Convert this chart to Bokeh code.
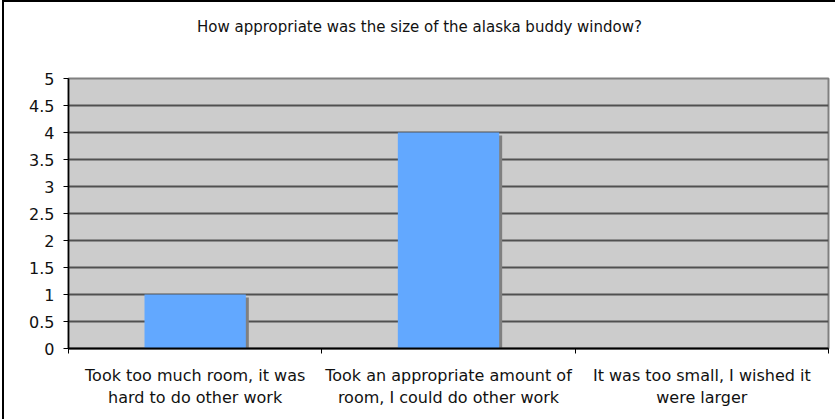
import numpy as np
from bokeh.plotting import figure
from bokeh.layouts import column
from bokeh.models import FixedTicker, NumeralTickFormatter, Range1d, ColumnDataSource, Div
from bokeh.embed import file_html
from bokeh.resources import INLINE

# ---- data ----
categories = [
    "Took too much room, it was\nhard to do other work",
    "Took an appropriate amount of\nroom, I could do other work",
    "It was too small, I wished it\nwere larger",
]
counts = [1, 4, 0]
y_ticks = [0, 0.5, 1, 1.5, 2, 2.5, 3, 3.5, 4, 4.5, 5]
title_text = "How appropriate was the size of the alaska buddy window?"

# ---- style ----
FONT = "DejaVu Sans"
W = 831
TH = 50                       # title block height
H = 417 - TH
ML, MR, MT, MB = 64, 7, 26, 71
BAR_W = 0.4
frame_w = W - ML - MR
frame_h = H - MT - MB
n = len(categories)
ymax = y_ticks[-1]
dx = 3 * n / frame_w          # 3px shadow offset in data units
dy = 3 * ymax / frame_h

xc = np.arange(n) + 0.5
vals = np.array(counts, dtype=float)
src = ColumnDataSource(dict(x=xc, top=vals,
                            sx=xc + dx, stop=np.maximum(vals - dy, 0)))

title = Div(text=title_text, width=W, height=TH, margin=(0, 0, 0, 0),
            styles={"font-family": FONT, "font-size": "15px",
                    "color": "#111111", "text-align": "center",
                    "line-height": f"{TH}px", "background": "white"})

p = figure(width=W, height=H, output_backend="svg", toolbar_location=None,
           x_range=Range1d(0, n), y_range=Range1d(0, ymax),
           min_border_left=ML, min_border_right=MR,
           min_border_top=MT, min_border_bottom=MB,
           background_fill_color="#CCCCCC", border_fill_color="white")

p.outline_line_color = "#808080"
p.outline_line_width = 2

# shadow + bars
p.vbar(x="sx", top="stop", bottom=0, width=BAR_W, source=src,
       fill_color="#808080", line_color=None)
p.vbar(x="x", top="top", bottom=0, width=BAR_W, source=src,
       fill_color="#62A8FF", line_color=None)

# grid
p.xgrid.visible = False
p.ygrid.ticker = FixedTicker(ticks=y_ticks)
p.ygrid.grid_line_color = "#505050"
p.ygrid.grid_line_width = 2
p.ygrid.level = "underlay"

# y axis
ya = p.yaxis[0]
ya.ticker = FixedTicker(ticks=y_ticks)
ya.formatter = NumeralTickFormatter(format="0.[0]")
ya.axis_line_color = "black"
ya.axis_line_width = 1.5
ya.major_tick_out = 5
ya.major_tick_in = 0
ya.minor_tick_out = 0
ya.minor_tick_in = 0
ya.major_label_standoff = 9
ya.major_label_text_font = FONT
ya.major_label_text_font_size = "16px"
ya.major_label_text_color = "#111111"

# x axis
xa = p.xaxis[0]
xa.ticker = FixedTicker(ticks=list(xc), minor_ticks=list(range(n + 1)))
xa.major_label_overrides = {float(x): c for x, c in zip(xc, categories)}
xa.axis_line_color = "black"
xa.axis_line_width = 2
xa.major_tick_out = 0
xa.major_tick_in = 0
xa.minor_tick_out = 5
xa.minor_tick_in = 0
xa.minor_tick_line_color = "black"
xa.major_label_standoff = 12
xa.major_label_text_font = FONT
xa.major_label_text_font_size = "16px"
xa.major_label_text_color = "#111111"
xa.major_label_text_line_height = 1.2

layout = column(title, p, spacing=0,
                styles={"border-top": "2px solid black",
                        "border-left": "2px solid black",
                        "margin-left": "2px"})

open("out.html", "w").write(file_html(layout, INLINE))
